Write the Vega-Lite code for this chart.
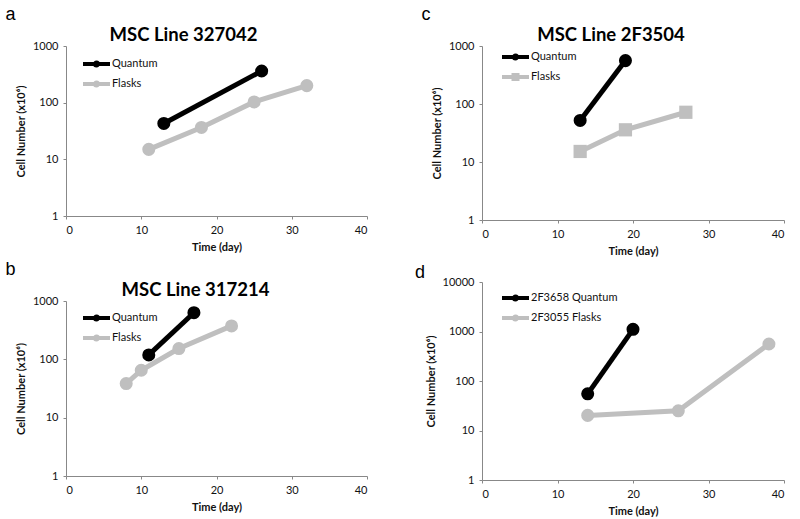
{
  "$schema": "https://vega.github.io/schema/vega-lite/v6.json",
  "background": "white",
  "padding": {"left": 5, "top": 5, "right": 5, "bottom": 2},
  "config": {
    "view": {"stroke": null},
    "font": "Lato",
    "axis": {
      "grid": false,
      "domainColor": "#888888",
      "tickColor": "#888888",
      "tickSize": 3,
      "labelFont": "Lato",
      "labelFontSize": 11,
      "labelColor": "#111111",
      "labelPadding": 5,
      "titleFont": "Lato",
      "titleFontSize": 11,
      "titleFontWeight": "bold",
      "titleColor": "#111111",
      "titlePadding": 6
    },
    "legend": {
      "labelFont": "Lato",
      "labelFontSize": 11,
      "labelColor": "#111111",
      "symbolSize": 100,
      "symbolStrokeWidth": 4,
      "labelOffset": 17,
      "rowPadding": 0
    }
  },
  "datasets": {
    "a": [
      {"series": "Quantum", "day": 13, "cells": 43},
      {"series": "Quantum", "day": 26, "cells": 362},
      {"series": "Flasks", "day": 11, "cells": 15},
      {"series": "Flasks", "day": 18, "cells": 36.5},
      {"series": "Flasks", "day": 25, "cells": 103},
      {"series": "Flasks", "day": 32, "cells": 200}
    ],
    "b": [
      {"series": "Quantum", "day": 11, "cells": 119},
      {"series": "Quantum", "day": 17, "cells": 630},
      {"series": "Flasks", "day": 8, "cells": 38.5},
      {"series": "Flasks", "day": 10, "cells": 65},
      {"series": "Flasks", "day": 15, "cells": 153},
      {"series": "Flasks", "day": 22, "cells": 374}
    ],
    "c": [
      {"series": "Quantum", "day": 13, "cells": 52},
      {"series": "Quantum", "day": 19, "cells": 560},
      {"series": "Flasks", "day": 13, "cells": 15.2},
      {"series": "Flasks", "day": 19, "cells": 35.9},
      {"series": "Flasks", "day": 27, "cells": 72}
    ],
    "d": [
      {"series": "2F3658 Quantum", "day": 14, "cells": 55},
      {"series": "2F3658 Quantum", "day": 20, "cells": 1107},
      {"series": "2F3055 Flasks", "day": 14, "cells": 20.2},
      {"series": "2F3055 Flasks", "day": 26, "cells": 25},
      {"series": "2F3055 Flasks", "day": 38, "cells": 559}
    ]
  },
  "spacing": 47,
  "resolve": {"scale": {"color": "independent", "shape": "independent"}, "legend": {"color": "independent", "shape": "independent"}},
  "hconcat": [
    {
      "spacing": 8,
      "resolve": {"scale": {"color": "independent", "shape": "independent"}, "legend": {"color": "independent", "shape": "independent"}},
      "vconcat": [
        {
          "title": {"text": "a", "anchor": "start", "font": "Liberation Sans", "fontSize": 18, "fontWeight": "normal", "color": "#000000", "dx": -10, "offset": 2},
          "resolve": {"scale": {"color": "independent", "shape": "independent"}, "legend": {"color": "independent", "shape": "independent"}},
          "vconcat": [
            {
              "title": {"text": "MSC Line 327042", "font": "Lato", "fontSize": 18.5, "fontWeight": "bold", "color": "#000000", "anchor": "middle", "frame": "group", "dx": -33, "offset": -4},
              "width": 301,
              "height": 170,
              "data": {"name": "a"},
              "encoding": {
                "x": {"field": "day", "type": "quantitative", "scale": {"domain": [0, 40]}, "axis": {"values": [0, 10, 20, 30, 40], "title": "Time (day)"}},
                "y": {"field": "cells", "type": "quantitative", "scale": {"type": "log", "domain": [1, 1000]}, "axis": {"values": [1, 10, 100, 1000], "format": "d", "title": "Cell Number (x10⁶)"}},
                "color": {"field": "series", "type": "nominal", "scale": {"domain": ["Quantum", "Flasks"], "range": ["#000000", "#bfbfbf"]},
                  "legend": {"orient": "none", "legendX": 15, "legendY": 11, "title": null, "symbolType": "M-1,0H4.4M2,0A0.3,0.3 0 1,1 1.4,0A0.3,0.3 0 1,1 2,0"}}
              },
              "layer": [
                {"mark": {"type": "line", "strokeWidth": 5}},
                {"mark": {"type": "point", "filled": true, "size": 170, "opacity": 1}}
              ]
            }
          ]
        },
        {
          "title": {"text": "b", "anchor": "start", "font": "Liberation Sans", "fontSize": 18, "fontWeight": "normal", "color": "#000000", "dx": -10, "offset": 2},
          "resolve": {"scale": {"color": "independent", "shape": "independent"}, "legend": {"color": "independent", "shape": "independent"}},
          "vconcat": [
            {
              "title": {"text": "MSC Line 317214", "font": "Lato", "fontSize": 18.5, "fontWeight": "bold", "color": "#000000", "anchor": "middle", "frame": "group", "dx": -21, "offset": -4},
              "width": 301,
              "height": 175,
              "data": {"name": "b"},
              "encoding": {
                "x": {"field": "day", "type": "quantitative", "scale": {"domain": [0, 40]}, "axis": {"values": [0, 10, 20, 30, 40], "title": "Time (day)"}},
                "y": {"field": "cells", "type": "quantitative", "scale": {"type": "log", "domain": [1, 1000]}, "axis": {"values": [1, 10, 100, 1000], "format": "d", "title": "Cell Number (x10⁶)"}},
                "color": {"field": "series", "type": "nominal", "scale": {"domain": ["Quantum", "Flasks"], "range": ["#000000", "#bfbfbf"]},
                  "legend": {"orient": "none", "legendX": 15, "legendY": 10, "title": null, "symbolType": "M-1,0H4.4M2,0A0.3,0.3 0 1,1 1.4,0A0.3,0.3 0 1,1 2,0"}}
              },
              "layer": [
                {"mark": {"type": "line", "strokeWidth": 5}},
                {"mark": {"type": "point", "filled": true, "size": 170, "opacity": 1}}
              ]
            }
          ]
        }
      ]
    },
    {
      "spacing": 8,
      "resolve": {"scale": {"color": "independent", "shape": "independent"}, "legend": {"color": "independent", "shape": "independent"}},
      "vconcat": [
        {
          "title": {"text": "c", "anchor": "start", "font": "Liberation Sans", "fontSize": 18, "fontWeight": "normal", "color": "#000000", "dx": -10, "offset": 2},
          "resolve": {"scale": {"color": "independent", "shape": "independent"}, "legend": {"color": "independent", "shape": "independent"}},
          "vconcat": [
            {
              "title": {"text": "MSC Line 2F3504", "font": "Lato", "fontSize": 18.5, "fontWeight": "bold", "color": "#000000", "anchor": "middle", "frame": "group", "dx": -22, "offset": -4},
              "width": 302,
              "height": 174,
              "data": {"name": "c"},
              "encoding": {
                "x": {"field": "day", "type": "quantitative", "scale": {"domain": [0, 40]}, "axis": {"values": [0, 10, 20, 30, 40], "title": "Time (day)"}},
                "y": {"field": "cells", "type": "quantitative", "scale": {"type": "log", "domain": [1, 1000]}, "axis": {"values": [1, 10, 100, 1000], "format": "d", "title": "Cell Number (x10⁶)"}},
                "color": {"field": "series", "type": "nominal", "scale": {"domain": ["Quantum", "Flasks"], "range": ["#000000", "#bfbfbf"]},
                  "legend": {"orient": "none", "legendX": 18, "legendY": 4, "title": null, "symbolType": "M-1,0H4.4M2,0A0.3,0.3 0 1,1 1.4,0A0.3,0.3 0 1,1 2,0",
                    "encode": {"symbols": {"update": {"shape": {"signal": "datum.value === 'Flasks' ? 'M-1,0H4.4M1.3,-0.4H2.1V0.4H1.3Z' : 'M-1,0H4.4M2,0A0.3,0.3 0 1,1 1.4,0A0.3,0.3 0 1,1 2,0'"}}}}}}
              },
              "layer": [
                {"mark": {"type": "line", "strokeWidth": 5}},
                {"transform": [{"filter": "datum.series === 'Quantum'"}], "mark": {"type": "point", "shape": "circle", "filled": true, "size": 170, "opacity": 1}},
                {"transform": [{"filter": "datum.series === 'Flasks'"}], "mark": {"type": "point", "shape": "square", "filled": true, "size": 175, "opacity": 1}}
              ]
            }
          ]
        },
        {
          "title": {"text": "d", "anchor": "start", "font": "Liberation Sans", "fontSize": 18, "fontWeight": "normal", "color": "#000000", "dx": -10, "offset": -6},
          "resolve": {"scale": {"color": "independent", "shape": "independent"}, "legend": {"color": "independent", "shape": "independent"}},
          "vconcat": [
            {
              "width": 302,
              "height": 198,
              "data": {"name": "d"},
              "encoding": {
                "x": {"field": "day", "type": "quantitative", "scale": {"domain": [0, 40]}, "axis": {"values": [0, 10, 20, 30, 40], "title": "Time (day)"}},
                "y": {"field": "cells", "type": "quantitative", "scale": {"type": "log", "domain": [1, 10000]}, "axis": {"values": [1, 10, 100, 1000, 10000], "format": "d", "title": "Cell Number (x10⁶)"}},
                "color": {"field": "series", "type": "nominal", "scale": {"domain": ["2F3658 Quantum", "2F3055 Flasks"], "range": ["#000000", "#bfbfbf"]},
                  "legend": {"orient": "none", "legendX": 18, "legendY": 9, "title": null, "symbolType": "M-1,0H4.4M2,0A0.3,0.3 0 1,1 1.4,0A0.3,0.3 0 1,1 2,0"}}
              },
              "layer": [
                {"mark": {"type": "line", "strokeWidth": 5}},
                {"mark": {"type": "point", "filled": true, "size": 170, "opacity": 1}}
              ]
            }
          ]
        }
      ]
    }
  ]
}
